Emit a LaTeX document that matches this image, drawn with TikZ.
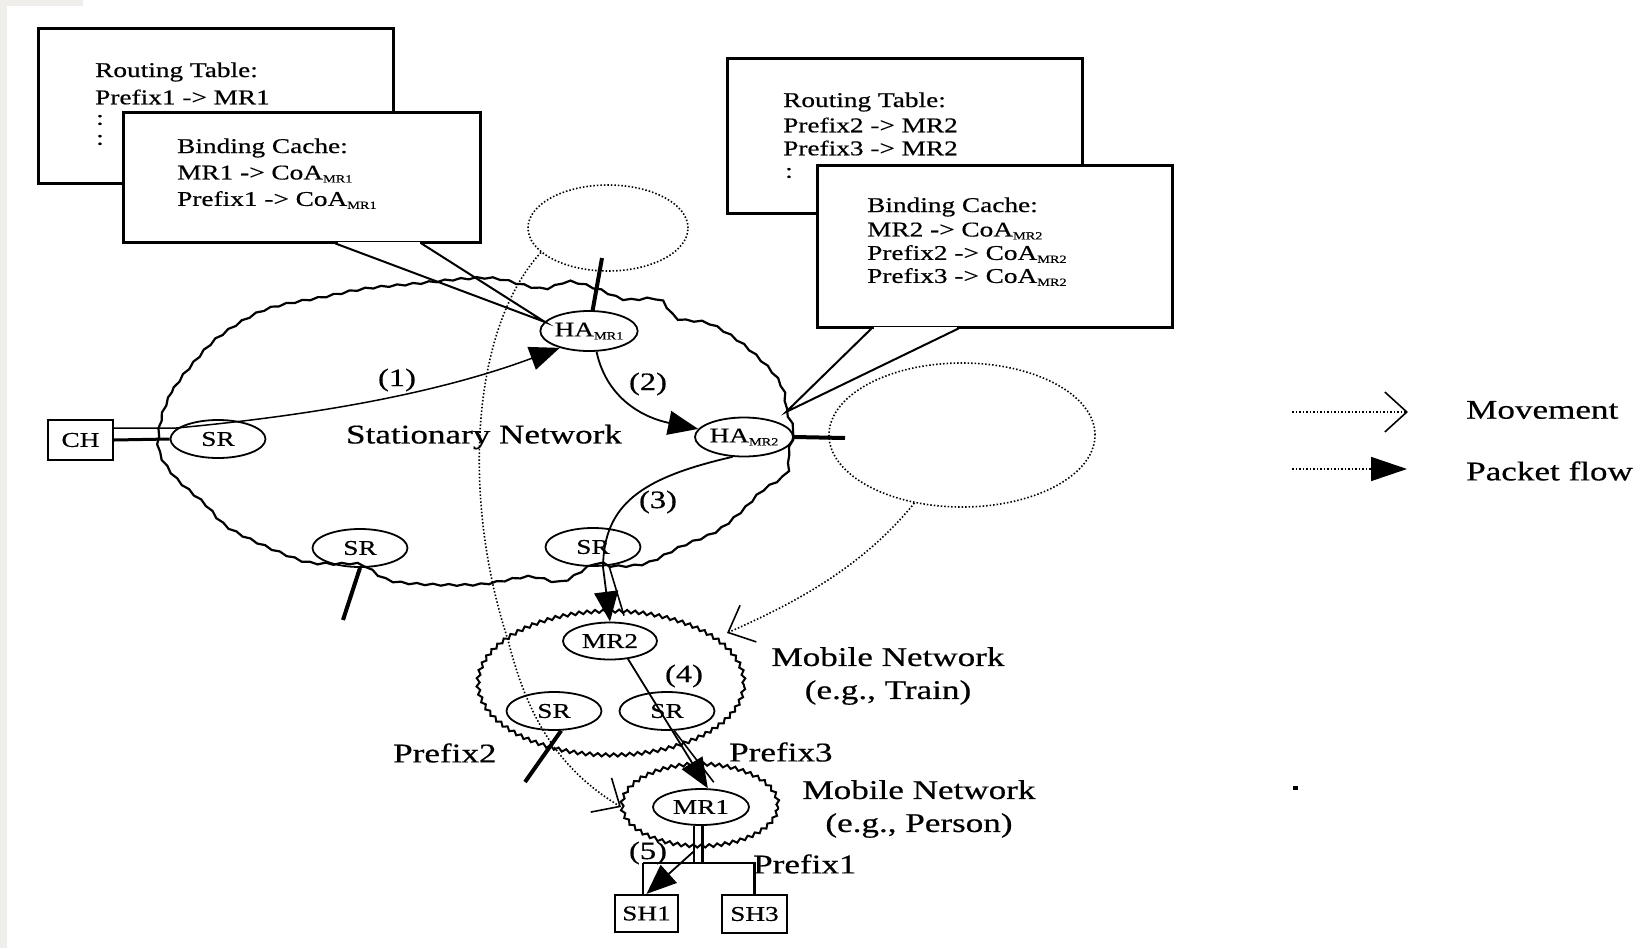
\documentclass[tikz,border=0pt]{standalone}
\usepackage{fontspec}
\setmainfont{Liberation Serif}[FakeStretch=1.3,FakeBold=0.5]
\usetikzlibrary{arrows.meta,decorations.pathmorphing,shapes.geometric,calc}
\definecolor{framegray}{HTML}{EFEEEA}
\newcommand{\lowsub}[1]{\raisebox{-3pt}{\fontsize{11}{11}\selectfont #1}}
\begin{document}
\begin{tikzpicture}[x=1pt,y=-1pt,
 rtr/.style={ellipse, draw, line width=1.8pt, inner sep=0pt, minimum width=95pt, minimum height=38pt, font=\fontsize{21}{21}\selectfont},
 hostbox/.style={rectangle, draw, line width=2.2pt, inner sep=0pt, font=\fontsize{21}{21}\selectfont},
 tbl/.style={rectangle, draw, line width=3pt, fill=white, inner sep=0pt},
 tbltxt/.style={anchor=west, inner sep=0pt, font=\fontsize{21}{21}\selectfont},
 lbl/.style={inner sep=0pt, font=\fontsize{25}{25}\selectfont},
 bigtxt/.style={inner sep=0pt, font=\fontsize{27}{33}\selectfont},
 flow/.style={line width=1.8pt, -{Triangle[length=30pt,width=24pt]}},
 movepat/.style={line width=1.6pt, dash pattern=on 1.5pt off 2pt},
 move/.style={movepat, -{Straight Barb[length=22pt,width=40pt,line width=1.6pt]}},
 stub/.style={line width=4pt},
 wavy/.style={decorate, decoration={snake, amplitude=0.9pt, segment length=16pt}},
 scallop/.style={decorate, decoration={snake, amplitude=1.6pt, segment length=8pt}},
]
\useasboundingbox (0,0) rectangle (1644,948);
\fill[white] (0,0) rectangle (1644,948);
\fill[framegray] (0,0) rectangle (7,948);
\fill[framegray] (0,0) rectangle (83,6);

% ---------- clouds ----------
\draw[line width=2.2pt, wavy] plot[smooth cycle, tension=0.55] coordinates {
 (160,420) (172,392) (190,368) (217,340) (263,313) (323,300) (363,292) (413,287)
 (463,282) (495,282) (540,292) (567,285) (597,293) (623,303) (657,303) (675,322)
 (707,327) (740,347) (770,375) (782,395) (785,415) (792,435) (787,455) (785,477)
 (760,495) (740,515) (715,535) (680,550) (645,567) (613,570) (593,567) (560,585)
 (527,580) (473,588) (393,585) (360,568) (330,567) (297,563) (230,533) (203,507)
 (173,480) (157,453)};
\node[ellipse, draw, movepat, minimum width=160pt, minimum height=86pt, inner sep=0pt] (topdot) at (608,228) {};
\node[ellipse, draw, movepat, minimum width=266pt, minimum height=144pt, inner sep=0pt] (rightdot) at (962,435) {};
\node[ellipse, draw, line width=2pt, minimum width=266pt, minimum height=144pt, inner sep=0pt, scallop] (train) at (611,685) {};
\node[ellipse, draw, line width=2pt, minimum width=156pt, minimum height=82pt, inner sep=0pt, scallop] (person) at (700,807) {};

% ---------- routers and hosts ----------
\node[rtr] (SR1) at (218,439) {SR};
\node[rtr] (SR2) at (360,548) {SR};
\node[rtr] (SR3) at (593,547) {SR};
\node[rtr, minimum width=96pt, minimum height=40pt] (HAMR1) at (589,331) {HA\lowsub{MR1}};
\node[rtr, minimum width=98pt, minimum height=39pt] (HAMR2) at (744,437) {HA\lowsub{MR2}};
\node[rtr, minimum width=94pt, minimum height=37pt] (MR2) at (610,641) {MR2};
\node[rtr] (SR4) at (554,711) {SR};
\node[rtr] (SR5) at (667,711) {SR};
\node[rtr, minimum width=96pt, minimum height=36pt] (MR1) at (701,807) {MR1};
\node[hostbox, minimum width=65pt, minimum height=40pt] (CH) at (80.5,440) {CH};
\node[hostbox, minimum width=63pt, minimum height=37pt] (SH1) at (646.5,913.5) {SH1};
\node[hostbox, minimum width=65pt, minimum height=38pt] (SH3) at (754.5,914) {SH3};

% ---------- tables ----------
\node[tbl, minimum width=355pt, minimum height=155pt] (rt1) at (215.5,105.5) {};
\node[tbltxt] at (95,72) {Routing Table:};
\node[tbltxt] at (95,97) {Prefix1 -> MR1};
\node[tbltxt] at (96,120) {:};
\node[tbltxt] at (96,140) {:};
\node[tbl, minimum width=357pt, minimum height=130pt] (bc1) at (301.5,177) {};
\node[tbltxt] at (177,148) {Binding Cache:};
\node[tbltxt] at (177,174) {MR1 -> CoA\lowsub{MR1}};
\node[tbltxt] at (177,200) {Prefix1 -> CoA\lowsub{MR1}};
\coordinate (tip1) at (545,322);
\draw[white, line width=4pt] ($(bc1.south west)+(216,0)$) -- ($(bc1.south west)+(298,0)$);
\draw[line width=2pt] ($(bc1.south west)+(214,0)$) -- (tip1) -- ($(bc1.south west)+(300,0)$);

\node[tbl, minimum width=355pt, minimum height=155pt] (rt2) at (904.5,135.5) {};
\node[tbltxt] at (783,102) {Routing Table:};
\node[tbltxt] at (783,125) {Prefix2 -> MR2};
\node[tbltxt] at (783,148) {Prefix3 -> MR2};
\node[tbltxt] at (785,173) {:};
\node[tbl, minimum width=355pt, minimum height=162pt] (bc2) at (994.5,246) {};
\node[tbltxt] at (867,207) {Binding Cache:};
\node[tbltxt] at (867,231) {MR2 -> CoA\lowsub{MR2}};
\node[tbltxt] at (867,254) {Prefix2 -> CoA\lowsub{MR2}};
\node[tbltxt] at (867,277) {Prefix3 -> CoA\lowsub{MR2}};
\coordinate (tip2) at (786,412);
\draw[white, line width=4pt] ($(bc2.south west)+(58,0)$) -- ($(bc2.south west)+(141,0)$);
\draw[line width=2pt] ($(bc2.south west)+(56,0)$) -- (tip2) -- ($(bc2.south west)+(143,0)$);

% ---------- stubs ----------
\coordinate (st1) at (602,258);
\coordinate (st2) at (845,438);
\coordinate (st3) at (343,620);
\coordinate (st4) at (525,782);
\draw[stub] (HAMR1.80) -- (st1);
\draw[stub] (HAMR2.east) -- (st2);
\draw[stub] (SR2.south) -- (st3);
\draw[stub] (SR4.290) -- (st4);

% ---------- links and packet flow ----------
\draw[line width=3pt] (CH.east) -- (SR1.west);
\draw[flow, line width=1.5pt] ($(CH.east)+(0,-12)$) -- ++(62,0) .. controls (350,412) and (460,385) .. (HAMR1.210);
\draw[flow] (HAMR1.290) .. controls (607,400) and (645,418) .. (HAMR2.170);
\draw[flow] (HAMR2.240) .. controls (640,478) and (604,505) .. (603,567) -- (MR2.north);
\draw[line width=1.6pt] ($(SR3.south)+(16,-1)$) -- ($(MR2.north)+(14,-6)$);
\draw[flow] (MR2.315) -- (MR1.70);
\draw[line width=1.6pt] (SR5.290) -- ($(MR1.70)+(6,-6)$);
\coordinate (busL) at (643,863);
\draw[line width=1.6pt] (MR1.250) -- (MR1.250 |- busL);
\draw[line width=2.5pt] (MR1.275) -- (MR1.275 |- busL);
\draw[line width=2.5pt] (busL) -| (SH3.north);
\draw[line width=2pt] (busL) -- (busL |- SH1.north);
\draw[flow] ($(MR1.250 |- busL)+(0,-12)$) -- (SH1.north);

% ---------- movement ----------
\coordinate (mvB) at (727,633);
\draw[move] (topdot.200) .. controls (470,330) and (462,500) .. (508,640) .. controls (528,720) and (560,770) .. (person.west);
\draw[move] (rightdot.235) .. controls (860,570) and (790,605) .. (mvB);

% ---------- labels ----------
\node[lbl] (l1) at (397,380) {(1)};
\node[lbl] (l2) at (648,384) {(2)};
\node[lbl] (l3) at (658,502) {(3)};
\node[lbl] (l4) at (684,676) {(4)};
\node[lbl] (l5) at (648,853) {(5)};
\node[bigtxt] (stat) at (484,437) {Stationary Network};
\node[bigtxt, align=center] (trainlbl) at (888,676) {Mobile Network\\(e.g., Train)};
\node[bigtxt, align=center] (personlbl) at (919,809) {Mobile Network\\(e.g., Person)};
\node[bigtxt, anchor=west] (p2) at (393,753) {Prefix2};
\node[bigtxt, anchor=west] (p3) at (729,752) {Prefix3};
\node[bigtxt, anchor=west] (p1) at (753,864) {Prefix1};

% ---------- legend ----------
\coordinate (lm1) at (1292,412);
\coordinate (lm2) at (1408,412);
\coordinate (lp1) at (1292,469);
\coordinate (lp2) at (1407,469);
\draw[move] (lm1) -- (lm2);
\draw[movepat, -{Triangle[length=36pt,width=24pt]}] (lp1) -- (lp2);
\node[bigtxt, anchor=west] (lmt) at (1466,410) {Movement};
\node[bigtxt, anchor=west] (lpt) at (1466,471) {Packet flow};
\fill (1293,786) rectangle (1298,790);
\end{tikzpicture}
\end{document}
